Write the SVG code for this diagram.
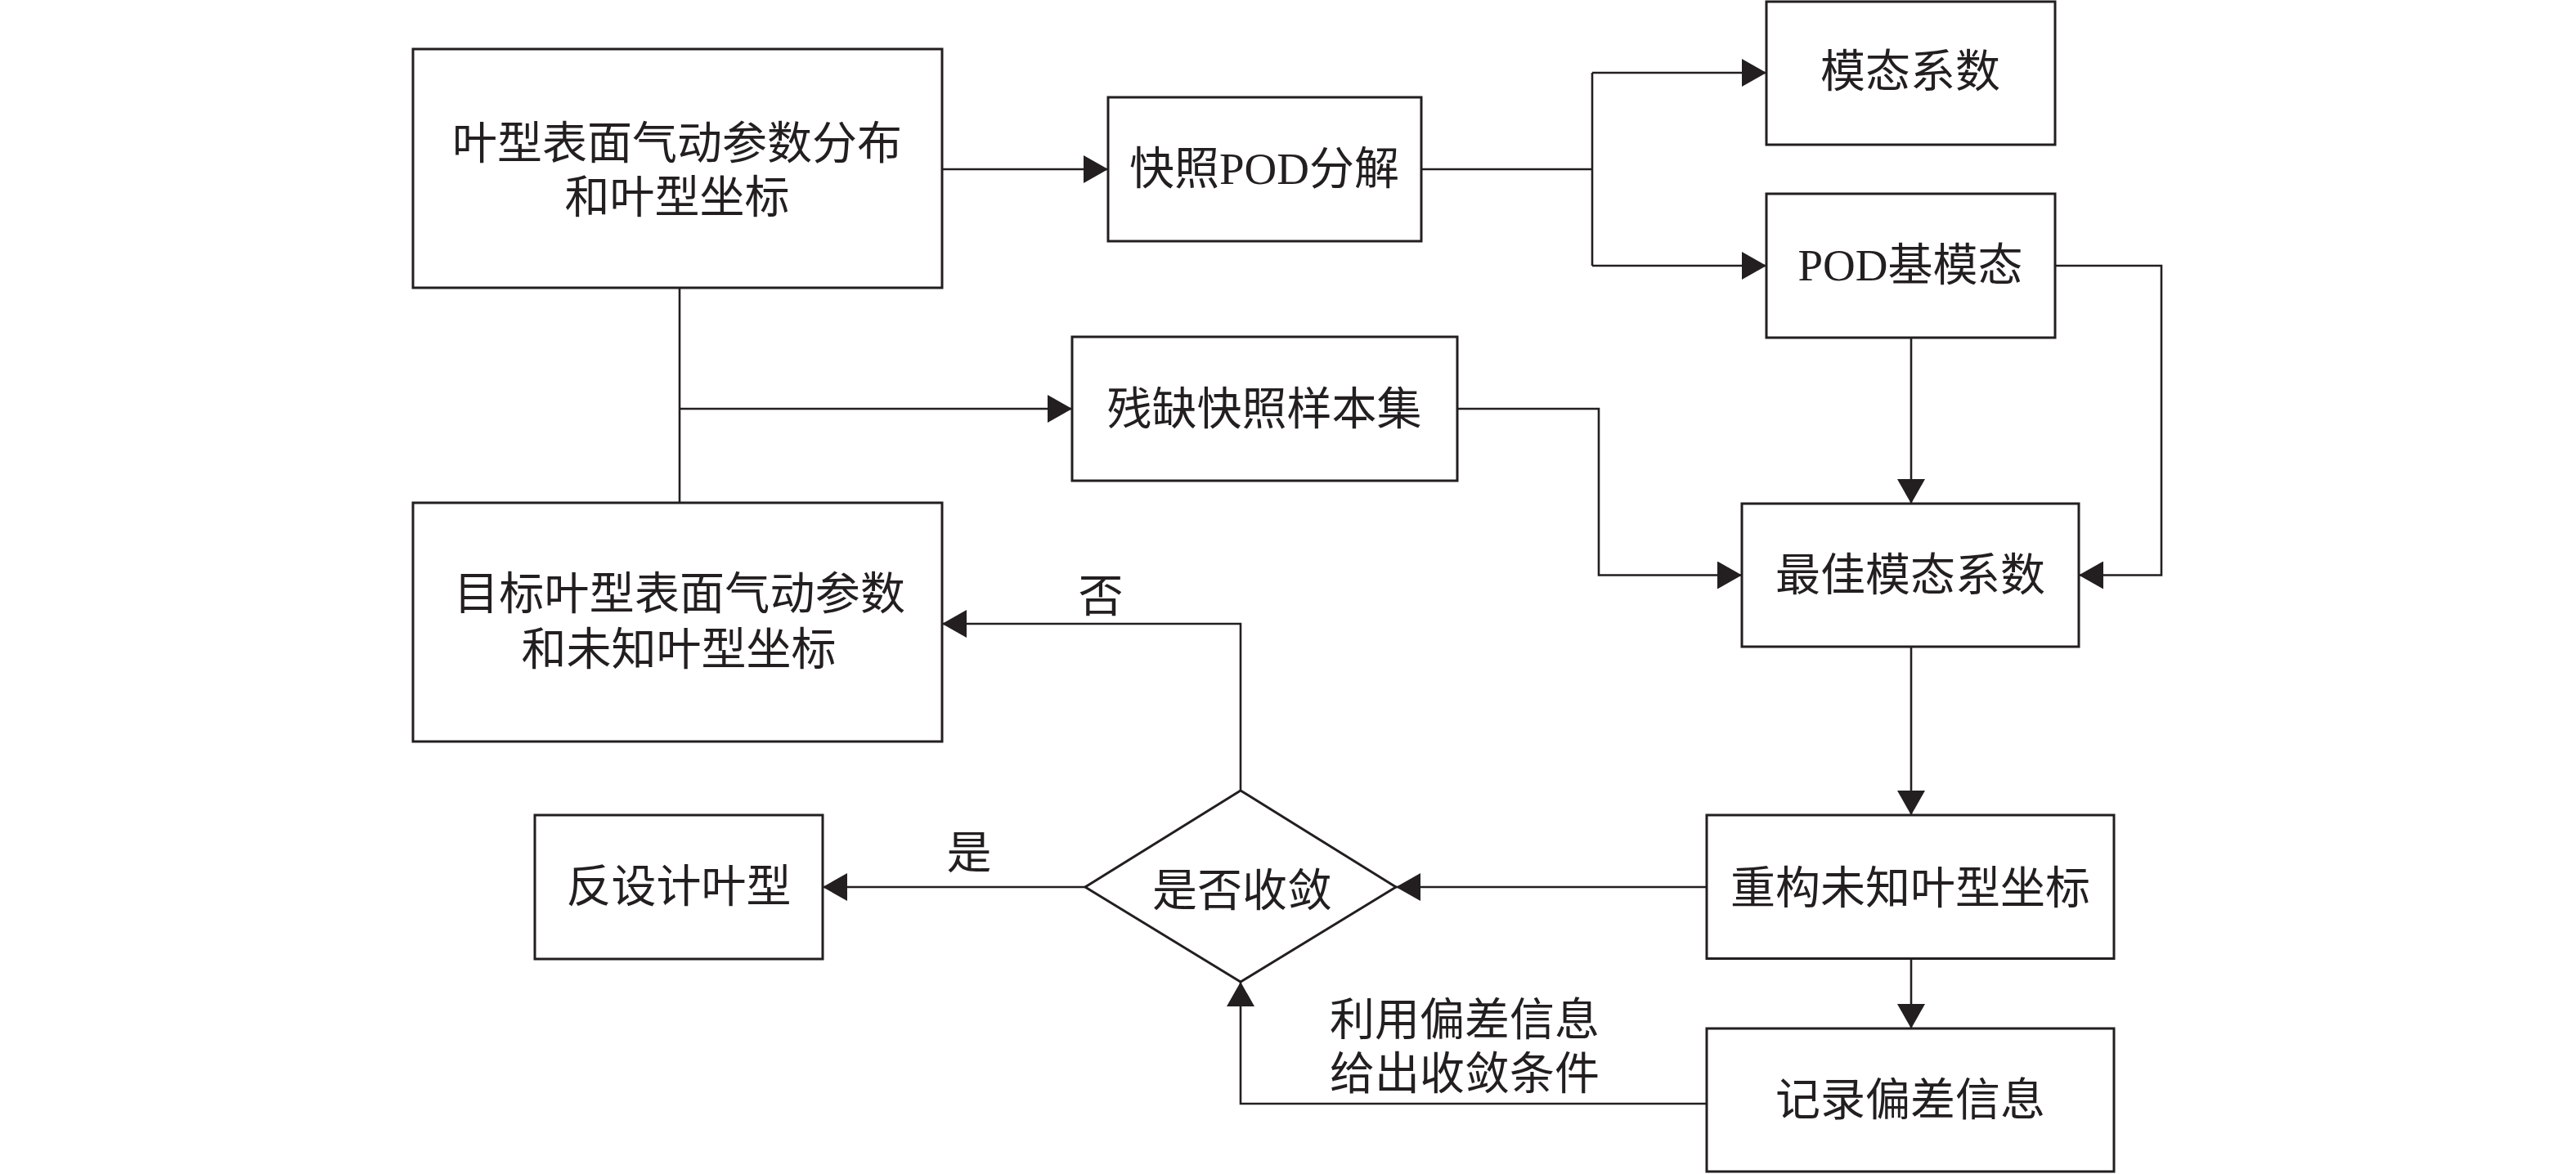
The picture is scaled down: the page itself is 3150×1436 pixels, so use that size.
<svg xmlns="http://www.w3.org/2000/svg" width="3150" height="1436" viewBox="0 0 3150 1436">
<style>
.box{fill:#fff;stroke:#231f20;stroke-width:3}
.ln{fill:none;stroke:#231f20;stroke-width:2.6}
.t{font-family:'Liberation Serif','Noto Sans CJK SC',serif;font-size:55px;fill:#231f20;text-anchor:middle}
</style>
<defs>
<marker id="ah" markerUnits="userSpaceOnUse" markerWidth="30" markerHeight="34" refX="30" refY="17" orient="auto" viewBox="0 0 30 34">
<path d="M0,0 L30,17 L0,34 z" fill="#231f20"/>
</marker>
</defs>
<rect width="3150" height="1436" fill="#fff"/>
<g id="connectors">
<path class="ln" d="M1152,207 H1355" marker-end="url(#ah)"/>
<path class="ln" d="M1738,207 H1947"/>
<path class="ln" d="M1947,89 V325"/>
<path class="ln" d="M1947,89 H2160" marker-end="url(#ah)"/>
<path class="ln" d="M1947,325 H2160" marker-end="url(#ah)"/>
<path class="ln" d="M831,352 V615"/>
<path class="ln" d="M831,500 H1311" marker-end="url(#ah)"/>
<path class="ln" d="M1782,500 H1955 V703.5 H2130" marker-end="url(#ah)"/>
<path class="ln" d="M2337,413 V616" marker-end="url(#ah)"/>
<path class="ln" d="M2513,325 H2643 V703.5 H2542" marker-end="url(#ah)"/>
<path class="ln" d="M2337,791 V997" marker-end="url(#ah)"/>
<path class="ln" d="M2087,1085 H1707" marker-end="url(#ah)"/>
<path class="ln" d="M2337,1172.5 V1258" marker-end="url(#ah)"/>
<path class="ln" d="M2087,1350 H1517 V1201" marker-end="url(#ah)"/>
<path class="ln" d="M1517,967 V763 H1152" marker-end="url(#ah)"/>
<path class="ln" d="M1327,1085 H1006" marker-end="url(#ah)"/>
<text class="t" x="1346" y="748">否</text>
<text class="t" x="1185" y="1062">是</text>
<text class="t" x="1791" y="1266">利用偏差信息</text>
<text class="t" x="1791" y="1332">给出收敛条件</text>
</g>
<g id="n1">
<rect class="box" x="505" y="60" width="647" height="292"/>
<text class="t" x="828" y="194">叶型表面气动参数分布</text>
<text class="t" x="828" y="260">和叶型坐标</text>
</g>
<g id="n2">
<rect class="box" x="1355" y="119" width="383" height="176"/>
<text class="t" x="1546" y="225">快照POD分解</text>
</g>
<g id="n3">
<rect class="box" x="2160" y="2" width="353" height="175"/>
<text class="t" x="2336" y="106">模态系数</text>
</g>
<g id="n4">
<rect class="box" x="2160" y="237" width="353" height="176"/>
<text class="t" x="2336" y="343">POD基模态</text>
</g>
<g id="n5">
<rect class="box" x="1311" y="412" width="471" height="176"/>
<text class="t" x="1546" y="519">残缺快照样本集</text>
</g>
<g id="n6">
<rect class="box" x="2130" y="616" width="412" height="175"/>
<text class="t" x="2336" y="722">最佳模态系数</text>
</g>
<g id="n7">
<rect class="box" x="505" y="615" width="647" height="292"/>
<text class="t" x="831" y="745" textLength="552" lengthAdjust="spacing">目标叶型表面气动参数</text>
<text class="t" x="830" y="813">和未知叶型坐标</text>
</g>
<g id="n8">
<path class="box" d="M1517,967 L1707,1085 L1517,1201 L1327,1085 z"/>
<text class="t" x="1519" y="1108">是否收敛</text>
</g>
<g id="n9">
<rect class="box" x="654" y="997" width="352" height="176"/>
<text class="t" x="830" y="1103">反设计叶型</text>
</g>
<g id="n10">
<rect class="box" x="2087" y="997" width="498" height="175.5"/>
<text class="t" x="2336" y="1105">重构未知叶型坐标</text>
</g>
<g id="n11">
<rect class="box" x="2087" y="1258" width="498" height="175"/>
<text class="t" x="2336" y="1364">记录偏差信息</text>
</g>
</svg>
